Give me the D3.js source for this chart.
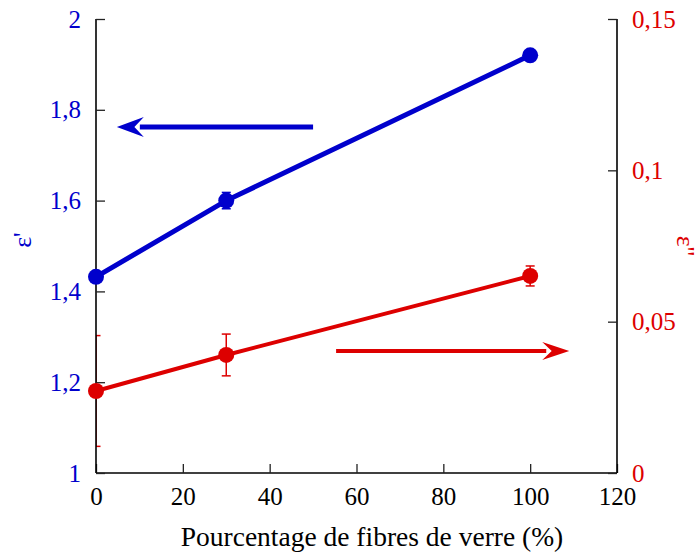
<!DOCTYPE html>
<html><head><meta charset="utf-8">
<script src="https://cdn.jsdelivr.net/npm/d3@7"></script>
<style>body{margin:0;background:#fff;} svg{display:block;}</style>
</head><body><svg id="c" width="700" height="553"></svg>
<script>
const fibre = [0, 30, 100];
const epsReal = [1.432, 1.60, 1.92];
const epsRealErr = [0.004, 0.018, 0.004];
const epsImag = [0.0271, 0.0390, 0.0651];
const epsImagErr = [0.0183, 0.0069, 0.0033];
const xTicks = [0, 20, 40, 60, 80, 100, 120];
const yLeftTicks = [1, 1.2, 1.4, 1.6, 1.8, 2];
const yRightTicks = [0, 0.05, 0.1, 0.15];
const arrowBlue = {x1: 50, x2: 4.8, y: 1.762};
const arrowRed = {x1: 55.3, x2: 109, y: 0.0403};

const blue = "#0000cc", red = "#dd0000";
const FONT = "Liberation Serif";
const FS = 25;
const L = 96, R = 617, T = 19, B = 473;
const svg = d3.select("#c");
const x = d3.scaleLinear().domain([0, 120]).range([L, R]);
const yL = d3.scaleLinear().domain([1, 2]).range([B, T]);
const yR = d3.scaleLinear().domain([0, 0.15]).range([B, T]);
const fmt = d => String(d).replace(".", ",");

svg.append("defs").append("clipPath").attr("id", "clip")
  .append("rect").attr("x", L).attr("y", 0).attr("width", R - L).attr("height", B);

const errLayer = svg.append("g").attr("clip-path", "url(#clip)");
const axisLayer = svg.append("g");
const lineLayer = svg.append("g");
const dotLayer = svg.append("g");

// axes
const gx = axisLayer.append("g").attr("transform", `translate(0,${B})`)
  .call(d3.axisBottom(x).tickValues(xTicks).tickSize(-9).tickPadding(14).tickFormat(d => d));
const gl = axisLayer.append("g").attr("transform", `translate(${L},0)`)
  .call(d3.axisLeft(yL).tickValues(yLeftTicks).tickSize(-9).tickPadding(15).tickFormat(fmt));
const gr = axisLayer.append("g").attr("transform", `translate(${R},0)`)
  .call(d3.axisRight(yR).tickValues(yRightTicks).tickSize(-9).tickPadding(15).tickFormat(fmt));
[gx, gl, gr].forEach(g => {
  g.attr("font-family", FONT).attr("font-size", FS);
  g.select(".domain").attr("stroke", "#000").attr("stroke-width", 1.6);
  g.selectAll(".tick line").attr("stroke", "#222").attr("stroke-width", 1.3);
  g.selectAll(".tick text").attr("font-size", FS).attr("font-family", FONT);
});
gx.select(".domain").attr("d", `M${L},0H${R}`);
gl.select(".domain").attr("d", `M0,${T}V${B}`);
gr.select(".domain").attr("d", `M0,${T}V${B}`);
gx.selectAll(".tick text").attr("fill", "#000");
gl.selectAll(".tick text").attr("fill", blue);
gr.selectAll(".tick text").attr("fill", red);

// axis titles
svg.append("text").attr("x", 372).attr("y", 546).attr("text-anchor", "middle")
  .attr("font-family", FONT).attr("font-size", 27.5).attr("fill", "#000").text("Pourcentage de fibres de verre (%)");
svg.append("text").attr("transform", "translate(31,240) rotate(-90)").attr("text-anchor", "middle")
  .attr("font-family", FONT).attr("font-size", 26).attr("fill", blue).text("ε'");
svg.append("text").attr("transform", "translate(677,246) rotate(90)").attr("text-anchor", "middle")
  .attr("font-family", FONT).attr("font-size", 26).attr("fill", red).text("ε''");

function series(vals, errs, y, color, lw) {
  const pts = fibre.map((f, i) => ({x: f, y: vals[i], e: errs[i]}));
  pts.forEach(p => {
    const xc = x(p.x), y1 = y(p.y - p.e), y2 = y(p.y + p.e);
    errLayer.append("line").attr("x1", xc).attr("x2", xc).attr("y1", y1).attr("y2", y2).attr("stroke", color).attr("stroke-width", 1.5);
    [y1, y2].forEach(yy => errLayer.append("line").attr("x1", xc - 4.5).attr("x2", xc + 4.5).attr("y1", yy).attr("y2", yy).attr("stroke", color).attr("stroke-width", 1.5));
  });
  lineLayer.append("path").datum(pts).attr("fill", "none").attr("stroke", color).attr("stroke-width", lw)
    .attr("d", d3.line().x(d => x(d.x)).y(d => y(d.y)));
  dotLayer.append("g").selectAll("circle").data(pts).join("circle")
    .attr("cx", d => x(d.x)).attr("cy", d => y(d.y)).attr("r", 8).attr("fill", color);
}
series(epsImag, epsImagErr, yR, red, 4);
series(epsReal, epsRealErr, yL, blue, 5);

function arrow(a, y, color, lw, hl, hw) {
  const x1 = x(a.x1), x2 = x(a.x2), yy = y(a.y);
  const dir = Math.sign(x2 - x1);
  const back = x2 - dir * hl;
  svg.append("line").attr("x1", x1).attr("x2", back + dir * 4).attr("y1", yy).attr("y2", yy)
    .attr("stroke", color).attr("stroke-width", lw);
  svg.append("path").attr("fill", color)
    .attr("d", `M${x2},${yy}L${back},${yy - hw}L${back + dir * hl * 0.35},${yy}L${back},${yy + hw}Z`);
}
arrow(arrowBlue, yL, blue, 5, 27, 10);
arrow(arrowRed, yR, red, 4, 27, 9);
</script></body></html>
